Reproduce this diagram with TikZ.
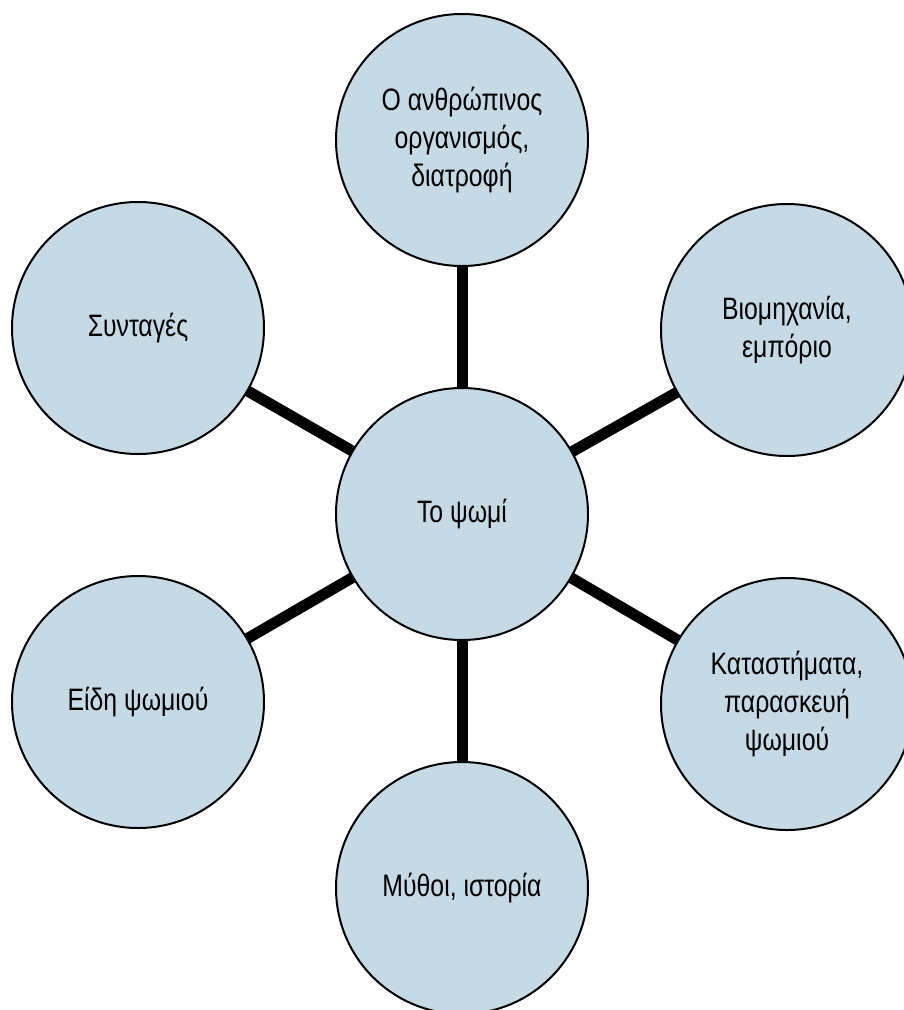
\documentclass[tikz,border=0pt]{standalone}
\usepackage{fontspec}
\setmainfont{Liberation Sans}[FakeStretch=0.8]
\usetikzlibrary{backgrounds}
\definecolor{bubblefill}{HTML}{C6DAE6}
\tikzset{
  bubble/.style={circle, draw=black, line width=2pt, fill=bubblefill,
    minimum size=252pt, inner sep=0pt, align=center,
    font=\fontsize{31}{38}\selectfont},
  spoke/.style={line width=11pt, black}
}
\begin{document}
\begin{tikzpicture}[x=1pt,y=1pt]
\useasboundingbox (0,0) rectangle (904,-1010);
\node[bubble] (c)  at (462,-514) {Το ψωμί};
\node[bubble] (t)  at (462,-140) {Ο ανθρώπινος\\οργανισμός,\\διατροφή};
\node[bubble] (ul) at (138,-328) {Συνταγές};
\node[bubble] (ur) at (787,-330) {Βιομηχανία,\\εμπόριο};
\node[bubble] (ll) at (138,-702) {Είδη ψωμιού};
\node[bubble] (lr) at (787,-704) {Καταστήματα,\\παρασκευή\\ψωμιού};
\node[bubble] (b)  at (462,-888) {Μύθοι, ιστορία};
\begin{scope}[on background layer]
\draw[spoke] (c.center) -- (t.center);
\draw[spoke] (c.center) -- (ul.center);
\draw[spoke] (c.center) -- (ur.center);
\draw[spoke] (c.center) -- (ll.center);
\draw[spoke] (c.center) -- (lr.center);
\draw[spoke] (c.center) -- (b.center);
\end{scope}
\end{tikzpicture}
\end{document}
